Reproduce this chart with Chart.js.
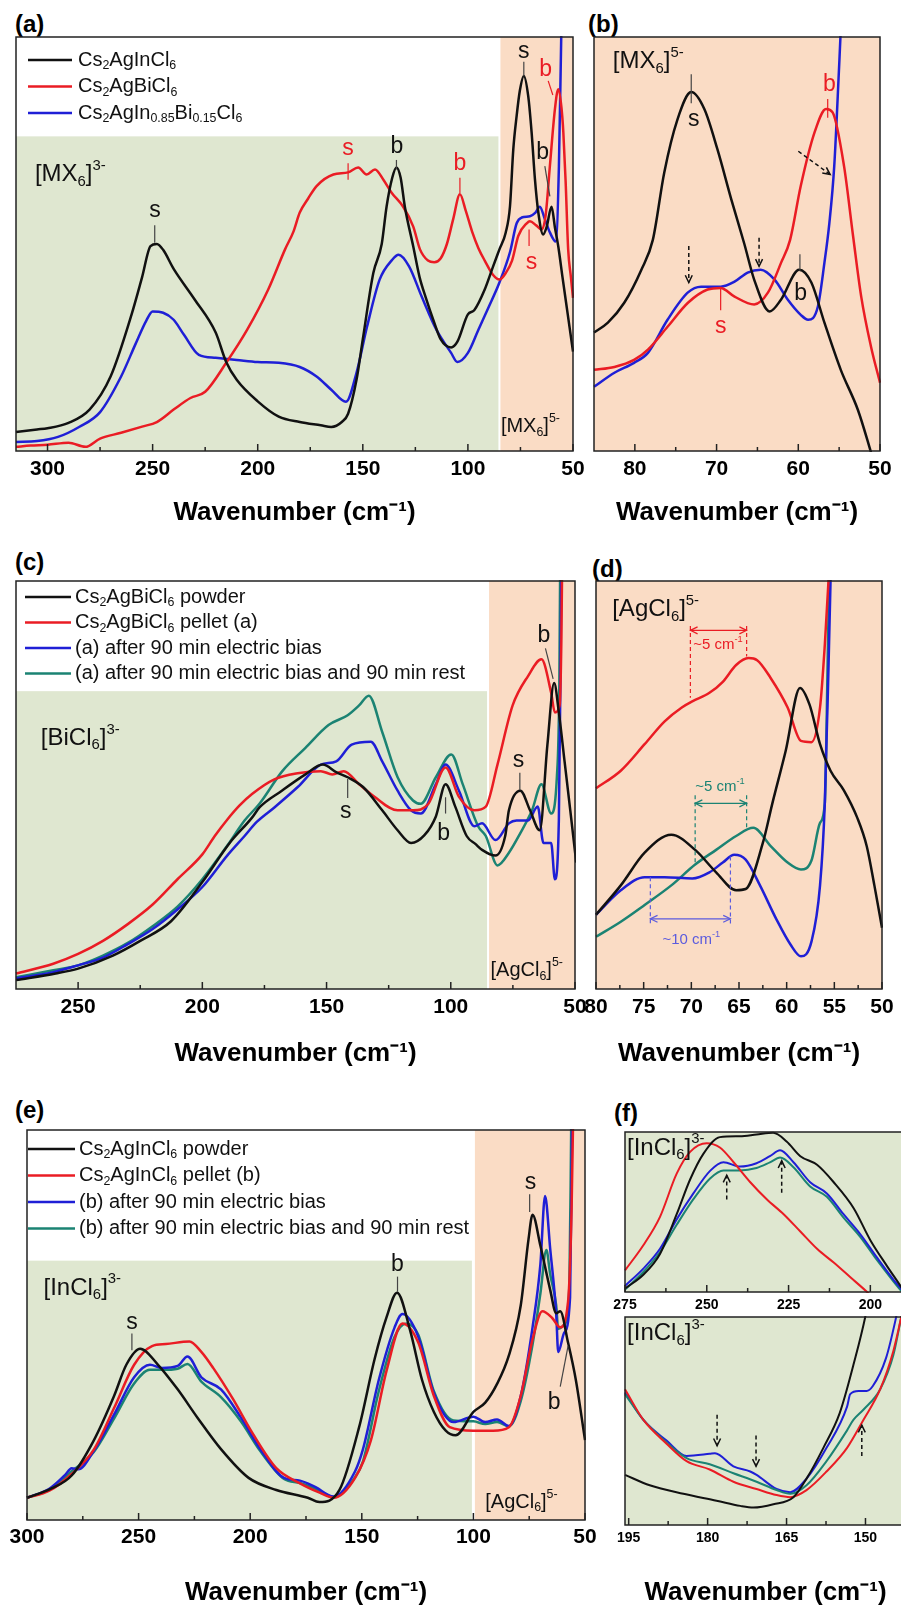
<!DOCTYPE html>
<html>
<head>
<meta charset="utf-8">
<title>Far-IR spectra of Cs2AgInCl6 / Cs2AgBiCl6</title>
<script src="https://cdn.jsdelivr.net/npm/chart.js@4/dist/chart.umd.min.js"></script>
<style>
html,body{margin:0;padding:0;background:#fff;}
body{width:901px;height:1613px;position:relative;overflow:hidden;}
canvas{position:absolute;}
.pl{position:absolute;font:bold 24px/24px "Liberation Sans",Arial,sans-serif;color:#000;}
</style>
</head>
<body>
<div class="pl" style="left:15px;top:12px">(a)</div>
<div class="pl" style="left:588px;top:12px">(b)</div>
<div class="pl" style="left:15px;top:550px">(c)</div>
<div class="pl" style="left:592px;top:557px">(d)</div>
<div class="pl" style="left:15px;top:1098px">(e)</div>
<div class="pl" style="left:614px;top:1101px">(f)</div>
<script>
// ---------------- DATA (x = wavenumber cm^-1, y = relative absorbance, 0..100 of plot height) ----------------
// Panel (a)
const a_names = ['Cs_{2}AgInCl_{6}', 'Cs_{2}AgBiCl_{6}', 'Cs_{2}AgIn_{0.85}Bi_{0.15}Cl_{6}'];
const a_black = [[315,4.6],[305,5.2],[300,5.5],[290,6.8],[280,10],[270,18],[260,33],[255,42],[251,49.5],[248,50],[245,48.6],[240,44],[230,36.6],[220,28.6],[215,21.5],[210,17.2],[200,12],[190,8.3],[180,7],[170,6.2],[165,5.8],[160,7],[157,9],[153,17.2],[150,27],[145,43],[141,50],[138.7,59],[136,66],[134,68.5],[132,66],[130,59],[126,49.4],[123,42],[120,37],[116,31],[113,27],[108,25],[105,26.4],[100,33],[97,34],[92,39],[88,44.6],[85,48.7],[82,52.8],[80,59],[78.4,72.9],[76.8,81],[75.3,87],[73.4,90.6],[71.3,85.7],[69.7,77],[68.1,65.6],[66.5,57.6],[64.2,52.3],[62.6,54],[60.2,59],[58.6,54],[57,49.4],[55,42],[52.5,33],[50,24]];
const a_red = [[315,1],[308,1.3],[300,1.5],[290,2],[282,1],[275,3],[265,4.4],[255,5.9],[248,7],[240,10],[232,12.8],[225,14.3],[215,21.3],[205,29.3],[195,39],[187,48.7],[183,53],[180,57.6],[176,61],[172,64],[164,66.8],[157,67.3],[152.2,68.5],[148.2,66.8],[144.2,68],[140.3,65.6],[136.3,62.4],[130.8,59],[126,54.2],[122.8,48.7],[119,46],[116,45.6],[113,46.5],[110,50],[107,56],[103.8,62],[101,58],[98,53],[95,49],[92,46],[88,42.5],[85,41.4],[82,43],[79,46],[76,52],[72,55],[70.5,55.5],[67.5,54.5],[65,53.5],[63,57],[61,68.8],[58.6,82.6],[57,87.4],[55.5,83],[54.6,77],[53.5,65],[52.3,48.7],[51,42],[50,37]];
const a_blue = [[315,2.2],[305,2.4],[295,3.4],[285,5.8],[275,9.4],[265,18],[258,26],[253,31.5],[250,33.7],[245,33.4],[240,31.7],[235,28],[228,23.2],[220,22.5],[210,22],[200,21.5],[190,21.3],[180,20.3],[172,18],[165,14.8],[158,11.9],[153,18.9],[148,30],[142,41.4],[136,46.2],[133,47.4],[128,44.6],[122,37.3],[115,29.3],[108,23.7],[105,21.5],[100,23.7],[95,29.3],[90,34.9],[85,40.7],[80,48],[76.8,55],[74.4,56.4],[70.5,56.7],[68,57.5],[65.8,59],[63.4,56],[61,52.8],[58.2,50.6],[56.7,68.8],[55.6,100],[54,140]];
const a_ticks = [300,275,250,225,200,175,150,125,100,75,50];
const a_labels = [300,250,200,150,100,50];

// Panel (b)
const b_black = [[85,28.6],[83.3,31],[81.3,35.8],[79.2,43.8],[77.8,51],[76.4,67.3],[74.8,80],[73.1,86.7],[71.5,82.6],[69.9,72.9],[68.2,60.8],[66.6,50],[65.4,41.4],[63.5,33.7],[62.1,36.6],[59.9,43.8],[58.4,40.7],[56.8,31],[54.8,19.6],[52.7,9.9],[51.3,1],[50,-8]];
const b_red = [[85,19.6],[82.5,20.3],[80.1,22],[78.4,24.5],[76,30],[73.5,35.8],[71.1,39],[69.5,39.4],[67.8,37.3],[65.4,35.4],[63.7,38.3],[62.1,45.5],[61,51],[59.7,64],[58,77],[56.6,82.6],[55.8,81.8],[54.4,68.8],[53.3,52],[52.3,37.3],[51.1,25.2],[50,16.5]];
const b_blue = [[85,15.5],[82.5,18.9],[80.1,21.3],[78.4,23.7],[76,31.7],[73.5,38.3],[71.9,39.7],[69.5,39.7],[67.8,40.9],[66.2,43.1],[64.6,43.8],[62.9,41.4],[61.3,36.6],[59.7,32.9],[58.8,31.7],[57.6,34.9],[56.8,45.5],[56.2,55],[55.6,68.8],[55,93],[54.6,110],[53,150]];
const b_ticks = [80,75,70,65,60,55,50];
const b_labels = [80,70,60,50];

// Panel (c)
const c_names = ['Cs_{2}AgBiCl_{6} powder', 'Cs_{2}AgBiCl_{6} pellet (a)', '(a) after 90 min electric bias', '(a) after 90 min electric bias and 90 min rest'];
const c_black = [[275,2.2],[259,3.8],[250,5],[236,8.2],[225,11.8],[212.6,16.6],[200,26.2],[189,35.8],[180,42],[177,44.5],[168,48.6],[158.5,52.6],[151.5,55],[146,53.1],[141.5,51.9],[135.3,49.5],[127.6,43.8],[121.4,38.9],[116,35.8],[110.6,37.7],[106,42.3],[102.1,50.2],[98.2,44.7],[93.6,37.5],[90,35.5],[87.4,34.1],[82,32.7],[78.1,37.5],[76.6,43.8],[72,48.6],[68.1,43.8],[64.2,38.9],[61.1,59.9],[58.4,75],[56.5,67.8],[54.2,55.8],[51.9,43.8],[49.5,31]];
const c_red = [[275,3.8],[260,6.2],[250,8.6],[240,11.8],[230,15.9],[220,20.7],[210,26.9],[200,33],[195,37.5],[190,41.5],[185,45],[180,47.8],[171,51.4],[161.6,52.9],[152.3,53.4],[147.7,52.6],[143.1,53.4],[136.9,50.2],[130.7,47.1],[121.4,43.8],[115.2,43.8],[109,45.4],[102.1,54.3],[96.7,47.1],[90.5,43.8],[85.9,44.7],[81.2,55],[75.1,69.5],[68.9,76.7],[63.5,80.8],[59.6,72.6],[58.1,67.8],[56.2,69.5],[55.5,85],[55,115]];
const c_blue = [[275,2.6],[260,4.1],[250,5.8],[240,7.7],[230,11],[220,14.7],[210,19.5],[200,25],[190,32.7],[183,37.5],[178,41],[171,44.5],[161.6,49.5],[152.3,55],[146.1,55.8],[139.9,59.9],[132.2,60.6],[127.6,55.8],[121.4,48.6],[116,43.8],[112.1,43],[106,50.2],[102.1,55],[96.7,48.6],[90.5,39.9],[87.4,40.6],[82,36.5],[76.6,40.6],[73.5,41.3],[68.9,41.3],[65,44.7],[62.7,35.8],[59.6,35.8],[58.1,26.9],[56.5,41.3],[55.8,80],[55.3,120]];
const c_teal = [[275,2.9],[260,4.6],[250,5.8],[240,8.2],[230,11.3],[220,15.4],[210,20.2],[200,26.9],[190,35.1],[183,41.3],[177,45.4],[167.8,53.4],[158.5,59.1],[149.2,64.7],[141.5,67.1],[136.9,69.5],[133,71.9],[127.6,63],[121.4,51.9],[115.2,46.2],[112.1,45.4],[106,51.9],[99.8,57.5],[95.2,50.2],[89,39.9],[85.9,37.5],[81.2,30.3],[76.6,33.4],[72,38.2],[67.3,43.8],[63.5,50.2],[59.6,43],[57.3,51.9],[56.3,75],[55.8,120]];
const c_ticks = [250,225,200,175,150,125,100,75,50];
const c_labels = [250,200,150,100,50];

// Panel (d)
const d_black = [[80,18.2],[77.4,25.4],[74.9,33.4],[72.1,37.8],[69.6,34.1],[67.4,28.6],[65.3,24.2],[64.3,24.5],[62.5,35.8],[61.5,45.5],[60.1,58.4],[58.6,73.8],[57.6,69.7],[56.5,60],[55.4,53.5],[54,48.7],[52.6,42],[51.6,35],[50.8,25.4],[50,15]];
const d_red = [[80,49.2],[77.4,53.5],[74.9,60],[72.8,65.6],[71,69],[69.9,70.5],[68.1,72.6],[66.7,75.3],[65.3,79.4],[64,81.1],[63.1,80.6],[61.7,76.3],[59.9,69],[58.5,60.8],[57.4,60.5],[56.5,69],[56,84.3],[55.6,100.5],[55,130]];
const d_blue = [[80,18.2],[77.4,24.2],[74.9,27.4],[72.8,27.4],[69.9,27.1],[68.1,28.6],[66.7,31],[65.5,32.9],[64.3,31.7],[62.8,25.4],[61.1,17.2],[59.6,10.9],[58.5,8],[57.4,11.6],[56.5,25.4],[56,45.5],[55.6,80],[55.2,120]];
const d_teal = [[80,12.8],[77.4,16.5],[74.9,20.6],[72.1,25.4],[69.6,30.5],[67.4,34.1],[65.3,37.5],[63.5,39.5],[61.7,35.1],[59.9,31],[58.5,29.3],[57.4,31.5],[56.5,40.7],[56,45.5],[55.7,80],[55.4,120]];
const d_ticks = [80,77.5,75,72.5,70,67.5,65,62.5,60,57.5,55,52.5,50];
const d_labels = [80,75,70,65,60,55,50];

// Panel (e)
const e_names = ['Cs_{2}AgInCl_{6} powder', 'Cs_{2}AgInCl_{6} pellet (b)', '(b) after 90 min electric bias', '(b) after 90 min electric bias and 90 min rest'];
const e_black = [[300,5.7],[289,8.1],[280,11.4],[270,20.5],[261,31.8],[255.5,39.8],[249.3,43.9],[241.3,39.8],[232.5,33.5],[223.7,26.3],[213,18.1],[200.7,10.8],[188.3,7.7],[174.2,5.7],[169,4.6],[160,7.7],[151.2,23.8],[144.2,41.4],[138.9,52],[134.2,58.3],[128.3,48.5],[123,35.9],[117.7,27.7],[112.4,22.9],[108,21.7],[100,27.7],[94.7,30.1],[89.4,34.9],[84.1,42.2],[78.8,55],[75.3,72],[73.5,78.3],[70,70.4],[65.6,59],[62.9,53],[61.1,53.5],[57.6,45.5],[54.1,35.9],[50,20.5]];
const e_red = [[300,5.7],[290,7.5],[280,11.8],[270,18.1],[261,28.7],[252,39.8],[244,44.6],[237.8,45.1],[227.2,45.8],[221.9,43.1],[216.6,39],[207.8,31.1],[198.9,22.2],[188.3,13.3],[177.7,9.4],[168.9,7],[162.7,5.7],[153,10.8],[145.9,20.5],[138.9,38.3],[131.8,50.4],[124.7,45.5],[117.7,31.8],[110.6,23.8],[100,22.9],[91.2,22.9],[84.1,23.8],[78.8,31.8],[73.5,46.3],[69.1,53.5],[64.7,51.8],[61.1,49.4],[57.6,55.9],[56,80],[55,115]];
const e_blue = [[300,5.7],[290,8],[283,11.5],[280,13.3],[277,13],[270,17.8],[261,27],[252,36.6],[244.9,39.8],[239.6,39],[232.5,39.5],[228.1,41.9],[221.9,36.6],[213.1,33.5],[204.2,26.3],[195.4,18.1],[184.8,10.8],[177.7,10.1],[170.7,8.4],[162.7,6],[153,12.5],[149.5,18.1],[142.4,35.9],[135.3,49.4],[131.8,52.8],[124.7,47],[117.7,32.5],[108.9,25.1],[100,26.5],[94.7,25.1],[89.4,25.8],[84.1,24.1],[78.8,31.8],[73.5,49.4],[70,65.5],[67.9,83.1],[65.6,69.6],[62.9,52.8],[62,43.1],[59.4,47.9],[56.7,57],[55.8,100],[55,140]];
const e_teal = [[300,5.7],[290,7.8],[280,12.5],[270,17.5],[261,26],[252,35],[244.9,38.5],[239.6,38.5],[232.5,38.8],[228.1,40],[221.9,35.5],[213.1,31.5],[204.2,25.3],[195.4,17.6],[184.8,10.5],[177.7,9.5],[170.7,8],[162.7,5.9],[153,11],[149.5,15],[142.4,33],[135.3,47],[130,50.4],[124.7,47.5],[117.7,33],[108.9,25.5],[100,25.3],[94.7,24.6],[89.4,25.1],[84.1,24],[78.8,30.5],[73.5,45],[70,58],[67.3,69.2],[65.6,63],[62.9,55],[62,49],[59.4,50],[57,60],[56.2,100],[55.5,140]];
const e_ticks = [300,275,250,225,200,175,150,125,100,75,50];
const e_labels = [300,250,200,150,100,50];

// Panel (f) top
const ft_black = [[275,2.2],[269.4,10.8],[264.3,23.8],[259.2,48.6],[255.1,70.3],[251,86.5],[246,96.8],[239.9,97.3],[234.8,98.4],[229.7,99.5],[225.6,94.1],[221.4,84.9],[216.3,79.5],[211.2,68.6],[205.1,52.4],[200,32.4],[194.9,16.2],[190.8,3.8],[188,-5]];
const ft_red = [[275,13.5],[269.4,29.2],[264.3,47],[259.2,74],[255.1,87.6],[250,93],[246,90.3],[241.8,81.1],[236.7,68.6],[231.6,57.8],[226.5,48.6],[221.4,37.8],[216.3,27],[211.2,18.4],[206.1,9.2],[201,0],[195,-12]];
const ft_blue = [[275,3.8],[269.4,14.6],[264.3,27],[259.2,45.4],[254.1,61.6],[249,75.7],[244.9,81.1],[239.9,78.4],[234.8,80.5],[230.7,84.9],[227.6,88.6],[223.5,81.1],[218.4,68.6],[213.3,61.6],[208.2,48.6],[203.1,36.2],[198,21.6],[192.9,7.6],[190.7,2.2],[188,-5]];
const ft_teal = [[275,1.5],[269.4,12.5],[264.3,25],[259.2,42],[254.1,58],[249,71],[244.9,76],[239.9,76],[234.8,77.5],[230.7,81],[227.6,84],[223.5,78],[218.4,66],[213.3,59.5],[208.2,46.5],[203.1,34.5],[198,20],[192.9,6.5],[190.7,1],[188,-5]];
const ft_ticks = [275,262.5,250,237.5,225,212.5,200];
const ft_labels = [275,250,225,200];

// Panel (f) bottom
const fb_black = [[195.7,24.1],[191,19.1],[184.6,15],[178.3,11.7],[173.8,9.2],[171.3,8.4],[167.5,10],[163.7,13.4],[161.2,22.3],[158,37.1],[154.9,53.8],[152.3,76.9],[149.8,103],[148,130]];
const fb_red = [[195.7,65.3],[192.2,50.5],[187.8,39.1],[184,30.7],[179.6,26.7],[175.1,20.8],[170.7,17.3],[166.9,14.4],[164.3,13.4],[161.2,16.8],[157.4,25.7],[153.5,37.1],[150.4,50.5],[147.2,65.3],[144.7,83.7],[143.2,100],[142,115]];
const fb_blue = [[195.7,63.7],[192.2,50.5],[187.8,40.6],[184,33.2],[179.6,34.2],[178.6,34.5],[175.1,28.2],[171.9,25.7],[170.7,24.1],[166.9,17.3],[164.3,15.8],[161.2,22.3],[157.4,37.1],[153.5,56.9],[152.9,62.9],[151.3,64.4],[149.8,64.4],[148.6,66.8],[146.1,80.2],[144.3,98.5],[143,115]];
const fb_teal = [[195.7,62.9],[192.2,50.5],[187.8,39.6],[184,32.2],[179.6,29.2],[175.1,24.9],[170.7,20.8],[166.9,16.8],[164.3,15],[161.2,19.1],[157.4,30.7],[153.5,45.5],[152.3,50.5],[150.4,55.4],[147.2,65.3],[144.7,81.7],[143.2,100],[142,115]];
const fb_ticks = [195,187.5,180,172.5,165,157.5,150];
const fb_labels = [195,180,165,150];

// ---------------- STYLE ----------------
const SANS = '"Liberation Sans", Arial, Helvetica, sans-serif';
const K = '#111111', R = '#ea1c24', B = '#1f1fd6', T = '#1b8373', BN = '#5b5bde';
const GREEN = '#dfe7d0', PINK = '#fadcc5';
const AXIS_TITLE = 'Wavenumber (cm\u207B\u00B9)';

function richText(ctx, str, x, y, size, color, align, weight) {
  const parts = []; const re = /([_^])\{([^}]*)\}/g; let last = 0, m;
  while ((m = re.exec(str))) {
    if (m.index > last) parts.push({t: str.slice(last, m.index), k: 'n'});
    parts.push({t: m[2], k: m[1] === '_' ? 'sub' : 'sup'});
    last = re.lastIndex;
  }
  if (last < str.length) parts.push({t: str.slice(last), k: 'n'});
  const small = size * 0.62;
  const f = k => `${weight || ''} ${k === 'n' ? size : small}px ${SANS}`;
  let w = 0;
  parts.forEach(p => { ctx.font = f(p.k); p.w = ctx.measureText(p.t).width; w += p.w; });
  let cx = align === 'center' ? x - w / 2 : (align === 'right' ? x - w : x);
  ctx.fillStyle = color; ctx.textBaseline = 'middle'; ctx.textAlign = 'left';
  parts.forEach(p => {
    ctx.font = f(p.k);
    const dy = p.k === 'sub' ? size * 0.3 : (p.k === 'sup' ? -size * 0.36 : 0);
    ctx.fillText(p.t, cx, y + dy);
    cx += p.w;
  });
}

function drawArrow(ctx, x1, y1, x2, y2, color, dashed, both, lw) {
  ctx.strokeStyle = color; ctx.lineWidth = lw;
  ctx.setLineDash(dashed ? [4, 3] : []);
  ctx.beginPath(); ctx.moveTo(x1, y1); ctx.lineTo(x2, y2); ctx.stroke();
  ctx.setLineDash([]);
  const head = 8, ang = Math.atan2(y2 - y1, x2 - x1);
  const h = (x, y, a) => {
    ctx.beginPath();
    ctx.moveTo(x - head * Math.cos(a - 0.45), y - head * Math.sin(a - 0.45));
    ctx.lineTo(x, y);
    ctx.lineTo(x - head * Math.cos(a + 0.45), y - head * Math.sin(a + 0.45));
    ctx.stroke();
  };
  h(x2, y2, ang); if (both) h(x1, y1, ang + Math.PI);
}

function panelPlugin(p) {
  return {
    id: 'panel_' + p.id,
    beforeDatasetsDraw(chart) {
      const {ctx, chartArea: a, scales: {x, y}} = chart;
      ctx.save();
      (p.regions || []).forEach(r => {
        const xa = x.getPixelForValue(r.x0), xb = x.getPixelForValue(r.x1);
        const ya = y.getPixelForValue(r.y0), yb = y.getPixelForValue(r.y1);
        const L = Math.max(a.left, Math.min(xa, xb)) + (r.gl || 0);
        const Rr = Math.min(a.right, Math.max(xa, xb)) - (r.gr || 0);
        const Tt = Math.max(a.top, Math.min(ya, yb));
        const Bb = Math.min(a.bottom, Math.max(ya, yb));
        ctx.fillStyle = r.color; ctx.fillRect(L, Tt, Rr - L, Bb - Tt);
      });
      ctx.restore();
    },
    afterDatasetsDraw(chart) {
      const {ctx, chartArea: a, scales: {x, y}} = chart;
      const px = v => x.getPixelForValue(v), py = v => y.getPixelForValue(v);
      ctx.save();
      (p.lines || []).forEach(l => {
        ctx.strokeStyle = l.c || '#444'; ctx.lineWidth = l.w || 1.2;
        ctx.setLineDash(l.d ? [4, 3] : []);
        ctx.beginPath(); ctx.moveTo(px(l.x1), py(l.y1)); ctx.lineTo(px(l.x2), py(l.y2)); ctx.stroke();
      });
      ctx.setLineDash([]);
      (p.arrows || []).forEach(r => drawArrow(ctx, px(r.x1), py(r.y1), px(r.x2), py(r.y2), r.c || K, r.d, r.both, r.w || 1.5));
      (p.texts || []).forEach(t => richText(ctx, t.t, px(t.x), py(t.y), t.s || 23, t.c || K, t.a || 'center', ''));
      ctx.strokeStyle = '#222'; ctx.lineWidth = 1.5; ctx.setLineDash([]);
      ctx.strokeRect(a.left, a.top, a.right - a.left, a.bottom - a.top);
      x.ticks.forEach(t => {
        const X = px(t.value);
        if (X < a.left - 0.5 || X > a.right + 0.5) return;
        const major = p.labels.includes(t.value);
        ctx.beginPath(); ctx.moveTo(X, a.bottom); ctx.lineTo(X, a.bottom - (major ? 7 : 4)); ctx.stroke();
      });
      if (p.legend) {
        const L = p.legend;
        chart.data.datasets.forEach((ds, i) => {
          const yy = a.top + L.dy + i * L.row, x0 = a.left + L.dx;
          ctx.strokeStyle = ds.borderColor; ctx.lineWidth = 2.5;
          ctx.beginPath(); ctx.moveTo(x0, yy); ctx.lineTo(x0 + L.len, yy); ctx.stroke();
          richText(ctx, ds.label, x0 + L.len + L.gap, yy, L.size, K, 'left', '');
        });
      }
      ctx.restore();
    }
  };
}

function makePanel(p) {
  const M = 30, TOPM = 8;
  const left = p.box[0] - M, top = p.box[1] - TOPM;
  const W = (p.box[2] - p.box[0]) + 2 * M;
  const H = (p.box[3] - top) + p.axisH;
  const cv = document.createElement('canvas');
  cv.width = W; cv.height = H;
  cv.style.left = left + 'px'; cv.style.top = top + 'px';
  cv.style.width = W + 'px'; cv.style.height = H + 'px';
  document.body.appendChild(cv);
  new Chart(cv, {
    type: 'line',
    data: {
      datasets: p.series.map(s => ({
        label: s.label || '',
        data: s.data.map(([x, y]) => ({x, y})),
        borderColor: s.color, backgroundColor: s.color,
        borderWidth: p.lw, pointRadius: 0, fill: false,
        tension: 0.4, cubicInterpolationMode: 'monotone', clip: 1
      }))
    },
    options: {
      responsive: false, animation: false, devicePixelRatio: 1,
      events: [],
      layout: {padding: {left: M, right: M, top: TOPM, bottom: 0}},
      plugins: {legend: {display: false}, tooltip: {enabled: false}},
      scales: {
        x: {
          type: 'linear', reverse: true, min: p.xmin, max: p.xmax,
          grid: {display: false, drawTicks: false}, border: {display: false},
          afterBuildTicks: ax => { ax.ticks = p.ticks.map(v => ({value: v})); },
          afterFit: ax => { ax.height = p.axisH; ax.paddingLeft = 0; ax.paddingRight = 0; },
          ticks: {
            autoSkip: false, maxRotation: 0, minRotation: 0, padding: p.tickPad, color: '#000',
            font: {family: SANS, size: p.tickSize, weight: 'bold'},
            callback: v => (p.labels.includes(v) ? String(v) : '')
          },
          title: {
            display: !!p.title, text: p.title || '', color: '#000',
            font: {family: SANS, size: 26, weight: 'bold'},
            padding: {top: 0, bottom: 0}
          }
        },
        y: {type: 'linear', display: false, min: 0, max: 100}
      }
    },
    plugins: [panelPlugin(p)]
  });
}

// ---------------- PANELS ----------------
makePanel({
  id: 'a', box: [16, 37, 573, 451], xmin: 50, xmax: 315, ticks: a_ticks, labels: a_labels,
  tickSize: 21, tickPad: 6, axisH: 77, title: AXIS_TITLE, lw: 2.5,
  series: [{data: a_black, color: K, label: a_names[0]}, {data: a_red, color: R, label: a_names[1]}, {data: a_blue, color: B, label: a_names[2]}],
  regions: [{x0: 315, x1: 85, y0: 0, y1: 76, color: GREEN, gr: 1}, {x0: 85, x1: 50, y0: 0, y1: 100, color: PINK, gl: 1}],
  legend: {dx: 12, dy: 23, row: 26.5, len: 44, gap: 6, size: 20},
  texts: [
    {x: 306, y: 66.8, t: '[MX_{6}]^{3-}', s: 24, a: 'left'},
    {x: 248.9, y: 58, t: 's'}, {x: 157, y: 73, t: 's', c: R}, {x: 133.8, y: 73.5, t: 'b'},
    {x: 103.8, y: 69.5, t: 'b', c: R}, {x: 73.4, y: 96.5, t: 's'}, {x: 63, y: 92, t: 'b', c: R},
    {x: 64.5, y: 72, t: 'b'}, {x: 69.8, y: 45.5, t: 's', c: R},
    {x: 84.3, y: 6, t: '[MX_{6}]^{5-}', s: 20, a: 'left'}
  ],
  lines: [
    {x1: 249, y1: 54.5, x2: 249, y2: 50.3}, {x1: 157, y1: 69.5, x2: 157, y2: 65.5, c: R},
    {x1: 134, y1: 70.3, x2: 134, y2: 68}, {x1: 103.8, y1: 66, x2: 103.8, y2: 62.3, c: R},
    {x1: 73.4, y1: 94, x2: 73.4, y2: 90.5}, {x1: 61.8, y1: 89.4, x2: 59.6, y2: 86, c: R},
    {x1: 63.4, y1: 68.8, x2: 61, y2: 61.5}, {x1: 70.9, y1: 53.5, x2: 70.9, y2: 49.5, c: R}
  ]
});

makePanel({
  id: 'b', box: [594, 37, 880, 451], xmin: 50, xmax: 85, ticks: b_ticks, labels: b_labels,
  tickSize: 21, tickPad: 6, axisH: 77, title: AXIS_TITLE, lw: 2.5,
  series: [{data: b_black, color: K}, {data: b_red, color: R}, {data: b_blue, color: B}],
  regions: [{x0: 85, x1: 50, y0: 0, y1: 100, color: PINK}],
  texts: [
    {x: 82.7, y: 94, t: '[MX_{6}]^{5-}', s: 24, a: 'left'},
    {x: 72.8, y: 80, t: 's'}, {x: 56.2, y: 88.5, t: 'b', c: R},
    {x: 69.5, y: 30, t: 's', c: R}, {x: 59.7, y: 38, t: 'b'}
  ],
  lines: [
    {x1: 73.1, y1: 91, x2: 73.1, y2: 84}, {x1: 56.4, y1: 85, x2: 56.4, y2: 80.5, c: R},
    {x1: 69.5, y1: 39.5, x2: 69.5, y2: 34, c: R}, {x1: 59.8, y1: 47.5, x2: 59.8, y2: 43.5}
  ],
  arrows: [
    {x1: 73.4, y1: 49.5, x2: 73.4, y2: 40.7, d: true},
    {x1: 64.8, y1: 51.5, x2: 64.8, y2: 44.6, d: true},
    {x1: 60, y1: 72.4, x2: 56.1, y2: 66.8, d: true}
  ]
});

makePanel({
  id: 'c', box: [16, 581, 575, 989], xmin: 50, xmax: 275, ticks: c_ticks, labels: c_labels,
  tickSize: 21, tickPad: 6, axisH: 80, title: AXIS_TITLE, lw: 2.5,
  series: [{data: c_black, color: K, label: c_names[0]}, {data: c_red, color: R, label: c_names[1]}, {data: c_blue, color: B, label: c_names[2]}, {data: c_teal, color: T, label: c_names[3]}],
  regions: [{x0: 275, x1: 85, y0: 0, y1: 73, color: GREEN, gr: 1}, {x0: 85, x1: 50, y0: 0, y1: 100, color: PINK, gl: 1}],
  legend: {dx: 9, dy: 16, row: 25.5, len: 46, gap: 4, size: 20},
  texts: [
    {x: 265, y: 61.5, t: '[BiCl_{6}]^{3-}', s: 24, a: 'left'},
    {x: 142.3, y: 43.5, t: 's'}, {x: 102.9, y: 38, t: 'b'}, {x: 72.7, y: 56, t: 's'}, {x: 62.5, y: 86.5, t: 'b'},
    {x: 84, y: 4.6, t: '[AgCl_{6}]^{5-}', s: 20, a: 'left'}
  ],
  lines: [
    {x1: 141.5, y1: 51.5, x2: 141.5, y2: 46.8}, {x1: 102.1, y1: 47, x2: 102.1, y2: 43},
    {x1: 72.2, y1: 53, x2: 72.2, y2: 48.8}, {x1: 61.9, y1: 83.5, x2: 58.8, y2: 76}
  ]
});

makePanel({
  id: 'd', box: [596, 581, 882, 989], xmin: 50, xmax: 80, ticks: d_ticks, labels: d_labels,
  tickSize: 21, tickPad: 6, axisH: 80, title: AXIS_TITLE, lw: 2.5,
  series: [{data: d_black, color: K}, {data: d_red, color: R}, {data: d_blue, color: B}, {data: d_teal, color: T}],
  regions: [{x0: 80, x1: 50, y0: 0, y1: 100, color: PINK}],
  texts: [
    {x: 78.3, y: 93, t: '[AgCl_{6}]^{5-}', s: 24, a: 'left'},
    {x: 67.2, y: 84.3, t: '~5 cm^{-1}', s: 15, c: R},
    {x: 67, y: 49.5, t: '~5 cm^{-1}', s: 15, c: T},
    {x: 70, y: 12, t: '~10 cm^{-1}', s: 15, c: BN}
  ],
  lines: [
    {x1: 70.1, y1: 89, x2: 70.1, y2: 71.4, c: R, d: true}, {x1: 64.2, y1: 89, x2: 64.2, y2: 81.5, c: R, d: true},
    {x1: 69.6, y1: 47.5, x2: 69.6, y2: 30.5, c: T, d: true}, {x1: 64.2, y1: 47.5, x2: 64.2, y2: 39.5, c: T, d: true},
    {x1: 74.3, y1: 27.4, x2: 74.3, y2: 15.5, c: BN, d: true}, {x1: 65.9, y1: 32.5, x2: 65.9, y2: 15.5, c: BN, d: true}
  ],
  arrows: [
    {x1: 70.1, y1: 87.9, x2: 64.2, y2: 87.9, c: R, both: true, w: 1.2},
    {x1: 69.6, y1: 45.5, x2: 64.2, y2: 45.5, c: T, both: true, w: 1.2},
    {x1: 74.3, y1: 17.2, x2: 65.9, y2: 17.2, c: BN, both: true, w: 1.2}
  ]
});

makePanel({
  id: 'e', box: [27, 1130, 585, 1520], xmin: 50, xmax: 300, ticks: e_ticks, labels: e_labels,
  tickSize: 21, tickPad: 5, axisH: 88, title: AXIS_TITLE, lw: 2.5,
  series: [{data: e_black, color: K, label: e_names[0]}, {data: e_red, color: R, label: e_names[1]}, {data: e_blue, color: B, label: e_names[2]}, {data: e_teal, color: T, label: e_names[3]}],
  regions: [{x0: 300, x1: 100, y0: 0, y1: 66.5, color: GREEN, gr: 1.5}, {x0: 100, x1: 50, y0: 0, y1: 100, color: PINK, gl: 1.5}],
  legend: {dx: 1, dy: 19, row: 26.5, len: 47, gap: 4, size: 20},
  texts: [
    {x: 292.6, y: 59.5, t: '[InCl_{6}]^{3-}', s: 24, a: 'left'},
    {x: 253, y: 50.6, t: 's'}, {x: 134, y: 65.5, t: 'b'}, {x: 74.4, y: 86.5, t: 's'}, {x: 63.8, y: 30, t: 'b'},
    {x: 94.7, y: 4.6, t: '[AgCl_{6}]^{5-}', s: 20, a: 'left'}
  ],
  lines: [
    {x1: 253, y1: 47.8, x2: 253, y2: 43.5}, {x1: 134, y1: 62.4, x2: 134, y2: 58.5},
    {x1: 74.8, y1: 83.5, x2: 74.8, y2: 79}, {x1: 61.1, y1: 34.2, x2: 57.6, y2: 44.6}
  ]
});

makePanel({
  id: 'ft', box: [625, 1132, 906, 1292], xmin: 189.1, xmax: 275, ticks: ft_ticks, labels: ft_labels,
  tickSize: 14, tickPad: 5, axisH: 24, title: '', lw: 2,
  series: [{data: ft_black, color: K}, {data: ft_red, color: R}, {data: ft_blue, color: B}, {data: ft_teal, color: T}],
  regions: [{x0: 275, x1: 189.1, y0: 0, y1: 100, color: GREEN}],
  texts: [{x: 274.4, y: 90, t: '[InCl_{6}]^{3-}', s: 24, a: 'left'}],
  arrows: [
    {x1: 243.9, y1: 57.8, x2: 243.9, y2: 73, d: true},
    {x1: 227.1, y1: 62, x2: 227.1, y2: 82, d: true}
  ]
});

makePanel({
  id: 'fb', box: [625, 1317, 906, 1525], xmin: 142.3, xmax: 195.7, ticks: fb_ticks, labels: fb_labels,
  tickSize: 14, tickPad: 5, axisH: 83, title: AXIS_TITLE, lw: 2,
  series: [{data: fb_black, color: K}, {data: fb_red, color: R}, {data: fb_teal, color: T}, {data: fb_blue, color: B}],
  regions: [{x0: 195.7, x1: 142.3, y0: 0, y1: 100, color: GREEN}],
  texts: [{x: 195.3, y: 92, t: '[InCl_{6}]^{3-}', s: 24, a: 'left'}],
  arrows: [
    {x1: 178.2, y1: 53, x2: 178.2, y2: 38.1, d: true},
    {x1: 170.8, y1: 43, x2: 170.8, y2: 28.2, d: true},
    {x1: 150.7, y1: 33.2, x2: 150.7, y2: 48, d: true}
  ]
});
</script>
</body>
</html>
